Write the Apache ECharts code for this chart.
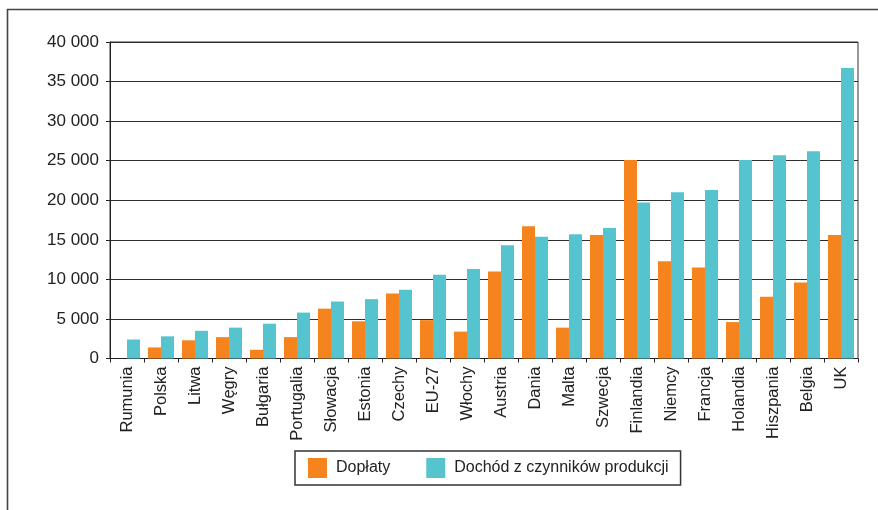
<!DOCTYPE html>
<html>
<head>
<meta charset="utf-8">
<script src="https://cdn.jsdelivr.net/npm/echarts@6/dist/echarts.min.js"></script>
<style>
  html, body { margin: 0; padding: 0; background: #fff; }
  #chart { width: 878px; height: 510px; }
</style>
</head>
<body>
<div id="chart"></div>
<script>
// Kraje (oraz średnia EU-27), posortowane rosnąco wg dochodu z czynników produkcji
const countries = ['Rumunia', 'Polska', 'Litwa', 'Węgry', 'Bułgaria', 'Portugalia', 'Słowacja',
  'Estonia', 'Czechy', 'EU-27', 'Włochy', 'Austria', 'Dania', 'Malta', 'Szwecja', 'Finlandia',
  'Niemcy', 'Francja', 'Holandia', 'Hiszpania', 'Belgia', 'UK'];

// Dopłaty
const subsidies = [0, 1400, 2300, 2700, 1100, 2700, 6300, 4700, 8200, 4850, 3400, 11000,
  16700, 3900, 15600, 25100, 12300, 11500, 4600, 7800, 9600, 15600];

// Dochód z czynników produkcji
const factorIncome = [2400, 2800, 3500, 3900, 4400, 5800, 7200, 7500, 8700, 10600, 11300, 14300,
  15400, 15700, 16500, 19700, 21000, 21300, 25100, 25700, 26200, 36700];

const yTicks = { min: 0, max: 40000, interval: 5000 };

const seriesNames = ['Dopłaty', 'Dochód z czynników produkcji'];
const colors = ['#f5841f', '#55c4ce'];

const fontFamily = 'Liberation Sans, Arial, sans-serif';
const chart = echarts.init(document.getElementById('chart'), null, { renderer: 'canvas' });

chart.setOption({
  animation: false,
  textStyle: { fontFamily: fontFamily },
  graphic: [{
    type: 'rect',
    shape: { x: 7.5, y: 9.5, width: 1000, height: 1000 },
    style: { fill: 'none', stroke: '#444', lineWidth: 1.6 },
    silent: true
  }],
  grid: {
    left: 110, right: 20, top: 42, bottom: 151.5,
    show: true, borderColor: '#333', borderWidth: 1, backgroundColor: 'transparent'
  },
  legend: {
    left: 295, top: 451,
    padding: [7, 12, 7, 13],
    itemWidth: 19, itemHeight: 20, itemGap: 36,
    borderColor: '#333', borderWidth: 1.5,
    icon: 'rect',
    textStyle: { fontSize: 16, color: '#222', fontFamily: fontFamily, padding: [0, 0, 0, 4] },
    data: seriesNames
  },
  xAxis: {
    type: 'category',
    data: countries,
    axisLine: { lineStyle: { color: '#222', width: 1 } },
    axisTick: { show: true, length: 4, lineStyle: { color: '#222' } },
    axisLabel: { rotate: 90, fontSize: 16.5, color: '#222', margin: 8, interval: 0 }
  },
  yAxis: {
    type: 'value',
    min: yTicks.min, max: yTicks.max, interval: yTicks.interval,
    axisLine: { show: true, lineStyle: { color: '#222', width: 1 } },
    axisTick: { show: true, length: 4, lineStyle: { color: '#222' } },
    splitLine: { lineStyle: { color: '#2e2e2e', width: 1.2 } },
    axisLabel: {
      fontSize: 17, color: '#222', margin: 11,
      formatter: function (v) { return v >= 1000 ? (Math.floor(v / 1000) + ' 000') : String(v); }
    }
  },
  series: [
    {
      name: seriesNames[0], type: 'bar', data: subsidies,
      barWidth: 13, barGap: '0%',
      itemStyle: { color: colors[0] }
    },
    {
      name: seriesNames[1], type: 'bar', data: factorIncome,
      barWidth: 13, barGap: '0%',
      itemStyle: { color: colors[1] }
    }
  ]
});
</script>
</body>
</html>
